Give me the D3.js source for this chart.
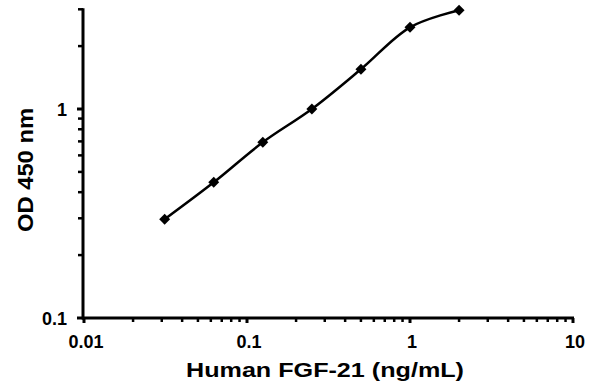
<!DOCTYPE html>
<html>
<head>
<meta charset="utf-8">
<script src="https://cdn.jsdelivr.net/npm/d3@7"></script>
<style>
  html, body { margin: 0; padding: 0; background: #fff; }
  svg text { font-family: "Liberation Sans", Arial, sans-serif; font-weight: bold; fill: #000; }
</style>
</head>
<body>
<svg id="chart" width="600" height="387"></svg>
<script>
// Data
const concentrations = [0.03125, 0.0625, 0.125, 0.25, 0.5, 1, 2];
const odValues = [0.297, 0.446, 0.693, 1.0, 1.55, 2.46, 2.97];
const xTickValues = [0.01, 0.1, 1, 10];
const xTickLabels = ["0.01", "0.1", "1", "10"];
const yTickValues = [0.1, 1];
const yTickLabels = ["0.1", "1"];
const xTitle = "Human FGF-21 (ng/mL)";
const yTitle = "OD 450 nm";

const svg = d3.select("#chart");
const x = d3.scaleLog().domain([0.01, 10]).range([84, 573]);
const y = d3.scaleLog().domain([0.1, 3]).range([318, 9.3]);

// minor ticks
const xMinor = [];
[0.01, 0.1, 1].forEach(d => { for (let k = 2; k <= 9; k++) xMinor.push(d * k); });
const yMinor = [];
[0.1].forEach(d => { for (let k = 2; k <= 9; k++) yMinor.push(d * k); });
yMinor.push(2, 3);

// X axis
const gx = svg.append("g").attr("transform", "translate(0,318)");
gx.append("line").attr("x1", x(0.01) - 1.5).attr("x2", x(10) + 1).attr("y1", 0).attr("y2", 0)
  .attr("stroke", "#000").attr("stroke-width", 3);
gx.selectAll("line.minor").data(xMinor).enter().append("line").attr("class", "minor")
  .attr("x1", d => x(d)).attr("x2", d => x(d)).attr("y1", 0).attr("y2", 4)
  .attr("stroke", "#000").attr("stroke-width", 2.5);
gx.selectAll("line.major").data(xTickValues).enter().append("line").attr("class", "major")
  .attr("x1", d => x(d)).attr("x2", d => x(d)).attr("y1", 0).attr("y2", 5)
  .attr("stroke", "#000").attr("stroke-width", 3);
gx.selectAll("text").data(xTickValues).enter().append("text")
  .attr("x", d => x(d) + 2).attr("y", 30).attr("text-anchor", "middle")
  .attr("font-size", 18).text((d, i) => xTickLabels[i]);

// Y axis
const gy = svg.append("g").attr("transform", "translate(83,0)");
gy.append("line").attr("x1", 0).attr("x2", 0).attr("y1", y(3) - 1).attr("y2", y(0.1) + 1.5)
  .attr("stroke", "#000").attr("stroke-width", 3);
gy.selectAll("line.minor").data(yMinor).enter().append("line").attr("class", "minor")
  .attr("x1", -5).attr("x2", 0).attr("y1", d => y(d)).attr("y2", d => y(d))
  .attr("stroke", "#000").attr("stroke-width", 2.5);
gy.selectAll("line.major").data(yTickValues).enter().append("line").attr("class", "major")
  .attr("x1", -6).attr("x2", 0).attr("y1", d => y(d)).attr("y2", d => y(d))
  .attr("stroke", "#000").attr("stroke-width", 3);
gy.selectAll("text").data(yTickValues).enter().append("text")
  .attr("x", -16).attr("y", d => y(d) + 6.5).attr("text-anchor", "end")
  .attr("font-size", 18).text((d, i) => yTickLabels[i]);

// Titles
svg.append("text").attr("x", 325).attr("y", 377).attr("text-anchor", "middle")
  .attr("font-size", 21).attr("textLength", 278).attr("lengthAdjust", "spacingAndGlyphs")
  .text(xTitle);
svg.append("text").attr("transform", "translate(33,170) rotate(-90)").attr("text-anchor", "middle")
  .attr("font-size", 22).attr("textLength", 124).attr("lengthAdjust", "spacingAndGlyphs")
  .text(yTitle);

// Line
const pts = concentrations.map((c, i) => [c, odValues[i]]);
const line = d3.line().x(d => x(d[0])).y(d => y(d[1])).curve(d3.curveCatmullRom.alpha(0.5));
svg.append("path").datum(pts).attr("d", line).attr("fill", "none")
  .attr("stroke", "#000").attr("stroke-width", 2.5);

// Markers
const sym = d3.symbol().type(d3.symbolSquare).size(60);
svg.selectAll("path.marker").data(pts).enter().append("path").attr("class", "marker")
  .attr("d", sym).attr("transform", d => `translate(${x(d[0])},${y(d[1])}) rotate(45)`)
  .attr("fill", "#000");
</script>
</body>
</html>
